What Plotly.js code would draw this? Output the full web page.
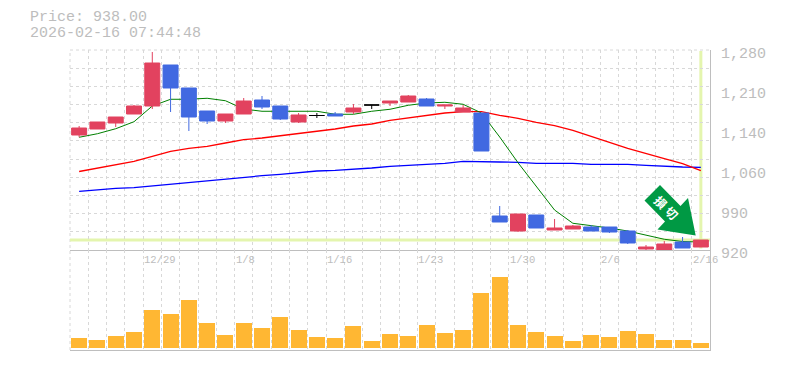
<!DOCTYPE html>
<html><head><meta charset="utf-8">
<script src="https://cdn.plot.ly/plotly-3.0.1.min.js"></script>
<style>html,body{margin:0;padding:0;background:#fff}#c{width:785px;height:370px}</style>
</head><body><div id="c"></div>
<script>
const titleLines = ["Price: 938.00", "2026-02-16 07:44:48"];
const sessions = Array.from({length:35},(_,i)=>i);
const open  = [1127,1137.8,1148.6,1164.8,1179.2,1253,1211.6,1170.2,1152.2,1164.8,1190,1179.2,1150.4,1162.1,1164.8,1168.4,1181,1184.6,1186.4,1191.8,1179.2,1168.4,1166.6,981.2,954.2,983,956,957.8,961.4,961.4,954.2,921.8,920,934.4,925.4];
const close = [1139.6,1150.4,1159.4,1179.2,1256.6,1211.6,1159.4,1152.2,1164.8,1188.2,1177.4,1155.8,1163,1162.1,1161.2,1175.6,1181,1188.2,1197.2,1179.2,1181,1175.6,1098.2,970.4,984.8,959.6,959.6,963.2,954.2,952.4,932.6,925.4,930.8,923.6,938];
const high  = [1143.2,1150.4,1159.4,1181,1276.4,1253,1211.6,1170.2,1164.8,1193.6,1197.2,1179.2,1166.6,1166.6,1168.4,1182.8,1181,1188.2,1199,1193.6,1181,1181,1166.6,999.2,984.8,983,975.8,965,965,961.4,956,929,936.2,943.4,938];
const low   = [1122.9,1137.8,1141.4,1164.8,1173.8,1168.4,1134.2,1146.8,1148.6,1164.8,1173.8,1154,1148.6,1157.6,1161.2,1164.8,1173.8,1179.2,1186.4,1179.2,1173.8,1168.4,1098.2,970.4,952.4,959.6,956,957.8,954.2,950.6,930.8,920,920,923.6,925.4];
const maShort = [1122.9,1129.3,1138.3,1150.9,1179.2,1191.3,1191.3,1193.1,1188.7,1173.8,1169.7,1169.7,1169.7,1169.7,1164.3,1164.3,1169.7,1173.3,1180.5,1184.6,1185.9,1182.3,1166.6,1123.4,1077.1,1035.2,992,968.1,964.5,959.6,954.2,946.5,939.3,935.3,934.4];
const maMid   = [1061.3,1067.6,1073,1079.7,1088.7,1097.7,1103.1,1106.7,1112.6,1118.5,1121.6,1125.7,1129.3,1134.7,1137.8,1143.2,1146.8,1153.5,1158.1,1163,1166.6,1169,1169,1162.5,1157.1,1149.9,1143.7,1135.5,1125.2,1113.9,1103.1,1093.3,1084.3,1075.3,1062.7];
const maLong  = [1025.7,1028.5,1031.1,1032.1,1035.2,1038.8,1042.4,1045.5,1047.8,1050.9,1053.7,1056.3,1059.1,1062.2,1063.5,1065.3,1067.6,1070.7,1072.5,1074.3,1076.1,1079.7,1079.7,1078.4,1077.9,1076.1,1076.1,1076.1,1074.3,1074.3,1074.3,1072.5,1070.7,1069.4,1068.9];
const volume = [10,8,12,16,38,34,48,25,13,25,20,31,18,11,10,22,7,14,12,23,15,18,55,71,23,16,12,7,13,11,17,14,8,8,5];
const dateLabels = ["12/29","1/8","1/16","1/23","1/30","2/6","2/16"];
const dateSessions = [4,9,14,19,24,29,34];
const priceTicks = [1280,1208,1136,1064,992,920];
const priceTickText = ["1,280","1,210","1,140","1,060","990","920"];
const lastPrice = 938;
const badge = ["損","切"];

const MONO = '"Liberation Mono", monospace';
const GREY = '#bdbdbd', GRID = '#d8d8d8', HILITE = '#e4f5ae';
const UP = '#e2425f', DOWN = '#4169e1';
const W = 785, H = 370, L = 70, R = 710, T = 50, B = 350;
const pxX = x => (x - L) / (R - L), pxY = y => (B - y) / (B - T);
const isDoji = i => open[i] === close[i];
const pick = (a, f) => a.filter((_, i) => f(i));

function candles(f, inc, dec) {
  return {type:'candlestick', xaxis:'x', yaxis:'y3', hoverinfo:'skip', showlegend:false,
    x:pick(sessions,f), open:pick(open,f), high:pick(high,f), low:pick(low,f), close:pick(close,f),
    increasing:{line:{color:inc,width:1}, fillcolor:inc},
    decreasing:{line:{color:dec,width:1}, fillcolor:dec}};
}
function ma(y, color, width) {
  return {type:'scatter', mode:'lines', x:sessions, y:y, xaxis:'x', yaxis:'y',
    hoverinfo:'skip', showlegend:false, line:{color:color,width:width}};
}
const traces = [
  ma(maLong,'#0000ff',1.3), ma(maMid,'#ff0000',1.3), ma(maShort,'#008000',1),
  candles(i=>!isDoji(i), UP, DOWN),
  candles(isDoji, '#000000', '#000000'),
  {type:'bar', x:sessions, y:volume, xaxis:'x2', yaxis:'y2', width:0.876,
   marker:{color:'#ffb733',line:{width:0}}, hoverinfo:'skip', showlegend:false}
];
const xAxisBase = {range:[-0.5,34.5], tickmode:'linear', tick0:-0.5, dtick:1, showgrid:true,
  gridcolor:GRID, griddash:'3px,3px', gridwidth:1, showticklabels:false, ticks:'', zeroline:false,
  showline:true, linecolor:'#bebebe', linewidth:1, rangeslider:{visible:false}, fixedrange:true};
const arrow = [[660,185],[644.5,200.5],[665,221.5],[657.5,229.5],[695.7,235.5],[688,198],[680.5,206]];
const gridEdge = {color:GRID, width:1, dash:'3px,3px'};
const layout = {
  width:W, height:H, margin:{l:L,r:W-R,t:T,b:H-B,pad:0}, paper_bgcolor:'#fff', plot_bgcolor:'#fff',
  showlegend:false, boxgap:0.18, boxgroupgap:0, bargap:0,
  xaxis:Object.assign({anchor:'y'},xAxisBase),
  xaxis2:Object.assign({anchor:'y2'},xAxisBase),
  yaxis:{domain:[1/3,1], range:[920,1280], side:'right', anchor:'x', tickmode:'array', tickvals:priceTicks, ticktext:priceTickText,
    ticks:'', ticklabelstandoff:7, ticklabelshift:3, tickfont:{family:MONO,size:15,color:GREY}, showgrid:false, zeroline:false,
    showline:true, linecolor:'#bebebe', linewidth:1, fixedrange:true,
    minor:{tickmode:'linear', tick0:920, dtick:360/11, showgrid:true, gridcolor:GRID, griddash:'3px,3px', gridwidth:1, ticks:''}},
  yaxis3:{overlaying:'y', domain:[1/3,1], range:[920,1280], side:'right', anchor:'x', visible:false, fixedrange:true},
  yaxis2:{domain:[0,1/3], range:[-2,98], side:'right', anchor:'x2', showticklabels:false, ticks:'', showgrid:false, zeroline:false,
    showline:true, linecolor:'#bebebe', linewidth:1, fixedrange:true},
  shapes:[
    {type:'line', xref:'paper', yref:'paper', x0:0, x1:1, y0:1, y1:1, layer:'below', line:gridEdge},
    {type:'line', xref:'paper', yref:'paper', x0:0, x1:0, y0:0, y1:1, layer:'below', line:gridEdge},
    {type:'line', xref:'paper', yref:'y', x0:0, x1:1, y0:lastPrice, y1:lastPrice, layer:'below', line:{color:HILITE,width:3}},
    {type:'line', xref:'x', yref:'paper', x0:34, x1:34, y0:pxY(248.5), y1:pxY(51), layer:'below', line:{color:HILITE,width:3}},
    {type:'path', xref:'paper', yref:'paper', layer:'above', fillcolor:'#009944', line:{width:0},
     path:'M'+arrow.map(p=>pxX(p[0])+','+pxY(p[1])).join('L')+'Z'}
  ],
  annotations: dateLabels.map((t,i)=>({text:t, xref:'x', yref:'paper', x:dateSessions[i]-0.5, y:pxY(260), xanchor:'left', yanchor:'middle',
      showarrow:false, xshift:-1, font:{family:MONO,size:10.5,color:GREY}}))
    .concat(badge.map((t,i)=>({text:t, xref:'paper', yref:'paper', x:pxX(660.7+11.3*i), y:pxY(201.7+11*i), xanchor:'center', yanchor:'middle',
      showarrow:false, textangle:45, font:{family:'"Noto Sans CJK JP"',size:12,color:'#fff',weight:700}})))
    .concat(titleLines.map((t,i)=>({text:t, xref:'paper', yref:'paper', x:pxX(29), y:pxY(18+15*i), xanchor:'left', yanchor:'middle',
      showarrow:false, xshift:-1, font:{family:MONO,size:15,color:GREY}})))
};
Plotly.newPlot('c', traces, layout, {displayModeBar:false, staticPlot:true});
</script></body></html>
